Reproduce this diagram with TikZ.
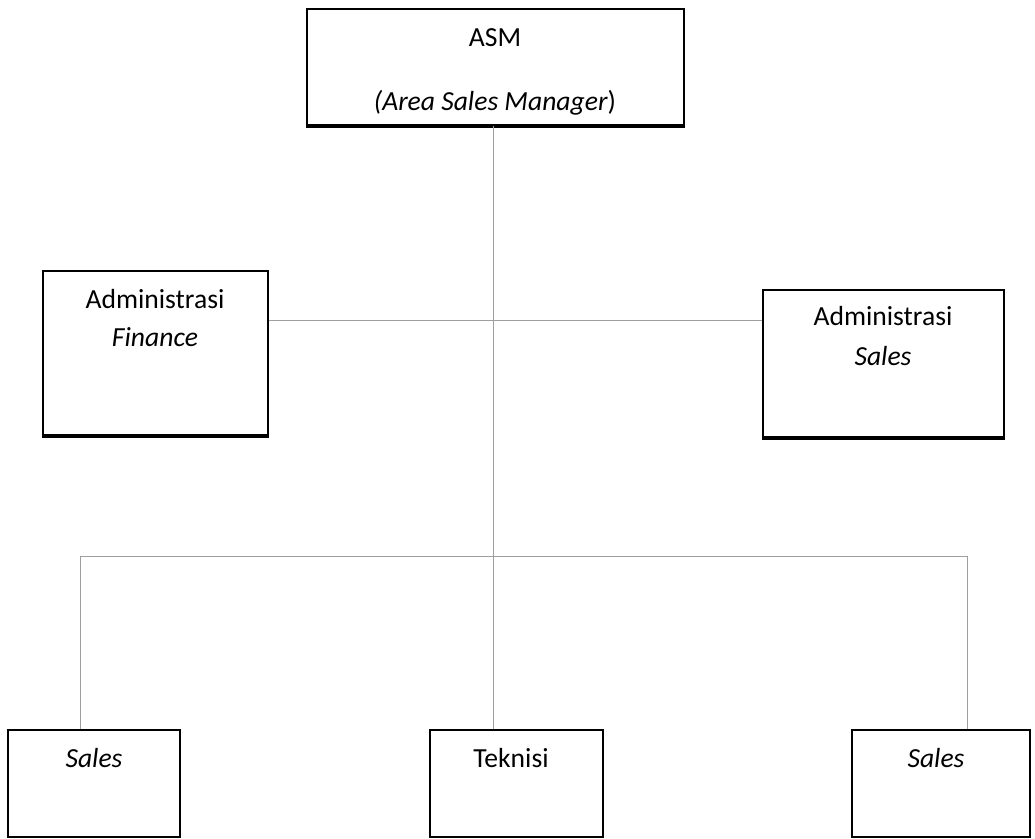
\documentclass[tikz,border=0pt]{standalone}
\usepackage{fontspec}
\setmainfont{Carlito}
\usetikzlibrary{calc, positioning}

\begin{document}
\begin{tikzpicture}[x=0.5pt, y=-0.5pt,
  box/.style={draw, line width=1pt, rectangle, inner sep=0pt},
  conn/.style={draw=gray!75, line width=0.45pt},
  txt/.style={font=\fontsize{13.8}{16}\selectfont, inner sep=0pt, anchor=base}]
  \useasboundingbox (0,0) rectangle (1035,839);
  % boxes
  \node[box, minimum width=188.5pt, minimum height=58pt] (asm) at (495.5,67) {};
  \node[box, minimum width=112.5pt, minimum height=82pt] (fin) at (155.5,353) {};
  \node[box, minimum width=120.5pt, minimum height=73.5pt] (adms) at (883.5,363.5) {};
  \node[box, minimum width=86pt, minimum height=53.5pt] (sa) at (94,783.5) {};
  \node[box, minimum width=86.5pt, minimum height=53.5pt] (tek) at (516.5,783.5) {};
  \node[box, minimum width=89pt, minimum height=53.5pt] (sb) at (941,783.5) {};
  % heavier bottom edges
  \foreach \b in {asm, fin, adms}
    \draw[line width=1.7pt] (\b.south west) -- (\b.south east);
  % texts
  \node[txt] (asmA) at (495,47) {ASM};
  \node[txt] (asmB) at (495,111) {\textit{(Area Sales Manager})};
  \node[txt] (finA) at (155,309) {Administrasi};
  \node[txt] (finB) at (155,347) {\textit{Finance}};
  \node[txt] (admA) at (883,326) {Administrasi};
  \node[txt] (admB) at (883,366) {\textit{Sales}};
  \node[txt] (saT) at (94,768) {\textit{Sales}};
  \node[txt] (tekT) at (511,768) {Teknisi};
  \node[txt] (sbT) at (936,768) {\textit{Sales}};
  % connectors
  \coordinate (mid) at (493,320);
  \coordinate (bus) at (493,556);
  \coordinate (dl) at (80,556);
  \coordinate (dr) at (967,556);
  \draw[conn] (asm.south -| mid) -- (tek.north -| mid);
  \draw[conn] (mid -| fin.east) -- (mid -| adms.west);
  \draw[conn] (dl) -- (dr);
  \draw[conn] (dl) -- (dl |- sa.north);
  \draw[conn] (dr) -- (dr |- sb.north);
\end{tikzpicture}
\end{document}
